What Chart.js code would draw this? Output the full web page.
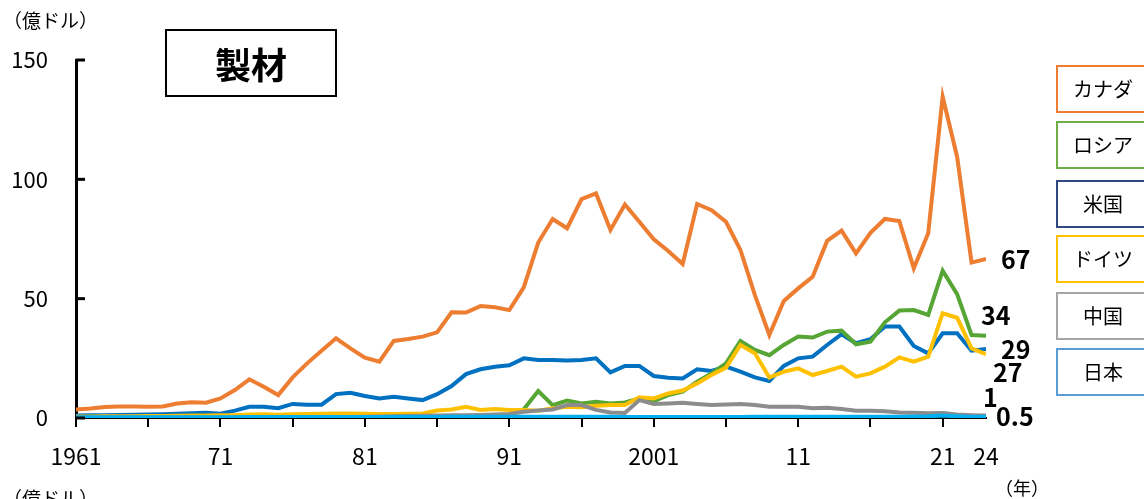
<!DOCTYPE html>
<html lang="ja">
<head>
<meta charset="utf-8">
<script src="https://cdn.jsdelivr.net/npm/chart.js@4.4.1/dist/chart.umd.min.js"></script>
<style>
  html, body { margin: 0; padding: 0; background: #fff; }
  body { width: 1144px; height: 499px; overflow: hidden; position: relative;
    font-family: "Noto Sans CJK JP", "Noto Sans", sans-serif; color: #000; }
  #wrap { position: absolute; left: 0; top: 0; width: 1144px; height: 499px; }
  .note { position: absolute; font-size: 18px; line-height: 1; }
  #title { position: absolute; left: 165px; top: 29px; width: 168px; height: 64px;
    border: 2.5px solid #000; font-weight: bold; font-size: 36px; line-height: 64px; text-align: center; }
  .leg { position: absolute; left: 1056px; width: 90px; height: 44px; border: 2px solid;
    font-size: 20px; line-height: 44px; text-align: center; box-sizing: content-box; }
</style>
</head>
<body>
<div id="wrap"><canvas id="chart"></canvas></div>
<div class="note" style="left:3px; top:10px; font-size:19px;">（億ドル）</div>
<div class="note" style="left:3px; top:488px; font-size:19px;">（億ドル）</div>
<div class="note" style="left:995px; top:478px;">（年）</div>
<div id="title">製材</div>
<div id="legend"></div>
<script>
// years 1961..2024
const years = Array.from({ length: 64 }, (_, i) => 1961 + i);

const canada = [
  3.6, 4.0, 4.6, 4.8, 4.8, 4.7, 4.8, 6.1, 6.6, 6.4,
  8.2, 11.7, 16.2, 13.1, 9.6, 17.0, 22.9, 28.2, 33.4, 29.2,
  25.3, 23.6, 32.3, 33.1, 34.1, 35.9, 44.3, 44.2, 46.9, 46.4,
  45.2, 54.7, 73.5, 83.4, 79.5, 91.7, 94.1, 78.8, 89.5, 82.2,
  74.9, 70.0, 64.5, 89.7, 87.1, 82.2, 70.4, 51.5, 34.8, 49.0,
  54.3, 59.2, 74.2, 78.5, 69.0, 77.6, 83.4, 82.5, 62.7, 77.4,
  134.6, 109.5, 65.1, 66.6
];
const russia = [
  null, null, null, null, null, null, null, null, null, null,
  null, null, null, null, null, null, null, null, null, null,
  null, null, null, null, null, null, null, null, null, null,
  null, 3.7, 11.3, 5.4, 7.3, 6.1, 6.8, 6.1, 6.5, 8.2,
  7.1, 9.6, 11.0, 15.2, 18.7, 22.9, 32.3, 28.5, 26.3, 30.6,
  34.1, 33.7, 36.2, 36.6, 30.9, 32.0, 40.1, 45.0, 45.2, 43.2,
  61.7, 51.9, 34.8, 34.5
];
const usa = [
  1.0, 1.1, 1.2, 1.3, 1.4, 1.5, 1.6, 1.8, 2.0, 2.2,
  1.8, 3.1, 4.7, 4.7, 4.1, 5.9, 5.6, 5.6, 10.0, 10.6,
  9.2, 8.2, 8.9, 8.2, 7.5, 10.0, 13.4, 18.4, 20.4, 21.5,
  22.1, 25.0, 24.3, 24.3, 24.1, 24.3, 25.0, 19.1, 21.8, 21.8,
  17.6, 16.9, 16.6, 20.4, 19.7, 21.5, 19.4, 17.0, 15.5, 21.8,
  25.0, 25.7, 30.6, 35.1, 31.3, 33.0, 38.3, 38.3, 30.2, 27.1,
  35.5, 35.5, 28.2, 28.9
];
const germany = [
  0.6, 0.6, 0.7, 0.7, 0.7, 0.8, 0.8, 0.9, 1.0, 1.0,
  1.1, 1.2, 1.5, 1.6, 1.4, 1.6, 1.7, 1.8, 1.9, 1.9,
  1.8, 1.7, 1.7, 1.8, 1.9, 3.1, 3.6, 4.7, 3.4, 3.8,
  3.4, 3.4, 3.0, 4.1, 4.7, 4.5, 5.1, 5.4, 5.4, 8.7,
  8.2, 10.3, 11.5, 14.5, 18.0, 21.1, 30.6, 27.1, 17.0, 19.4,
  20.8, 18.0, 19.7, 21.5, 17.3, 18.7, 21.5, 25.4, 23.6, 25.7,
  43.9, 42.0, 29.2, 26.8
];
const china = [
  0.2, 0.2, 0.2, 0.2, 0.2, 0.2, 0.2, 0.2, 0.2, 0.2,
  0.2, 0.2, 0.3, 0.3, 0.3, 0.3, 0.3, 0.3, 0.4, 0.4,
  0.5, 0.6, 0.7, 0.8, 0.9, 1.0, 1.1, 1.2, 1.3, 1.5,
  1.7, 2.6, 3.1, 3.6, 5.4, 5.4, 3.4, 2.3, 2.1, 7.5,
  5.9, 6.1, 6.4, 5.9, 5.4, 5.7, 5.9, 5.4, 4.7, 4.7,
  4.7, 4.1, 4.3, 3.8, 3.0, 3.0, 2.8, 2.3, 2.2, 2.0,
  2.1, 1.5, 1.2, 1.0
];
const japan = [
  0.3, 0.3, 0.3, 0.3, 0.3, 0.3, 0.3, 0.3, 0.3, 0.3,
  0.3, 0.3, 0.4, 0.4, 0.4, 0.4, 0.4, 0.4, 0.4, 0.4,
  0.4, 0.4, 0.4, 0.4, 0.4, 0.4, 0.5, 0.5, 0.5, 0.5,
  0.5, 0.5, 0.5, 0.5, 0.5, 0.5, 0.5, 0.5, 0.4, 0.4,
  0.4, 0.4, 0.4, 0.4, 0.4, 0.4, 0.4, 0.5, 0.5, 0.5,
  0.5, 0.5, 0.5, 0.5, 0.5, 0.5, 0.5, 0.5, 0.6, 0.7,
  1.0, 0.7, 0.5, 0.5
];

const countries = ["カナダ", "ロシア", "米国", "ドイツ", "中国", "日本"];
const endLabels = ["67", "34", "29", "27", "1", "0.5"];
const xTicks = [1961, 1966, 1971, 1976, 1981, 1986, 1991, 1996, 2001, 2006, 2011, 2016, 2021, 2024];
const xTickLabels = ["1961", "", "71", "", "81", "", "91", "", "2001", "", "11", "", "21", "24"];
const yTicks = [0, 50, 100, 150];

const series = [canada, russia, usa, germany, china, japan];
const lineColors = ["#ED7D31", "#56A535", "#0070C0", "#FFC000", "#8C8C8C", "#00B0F0"];
const legendBorders = ["#ED7D31", "#70AD47", "#2F4A7F", "#FFC000", "#A5A5A5", "#5B9BD5"];
const drawOrder = [5, 3, 4, 2, 1, 0];
// label offsets from each series' last point (dx, dy)
const labelOffsets = [[15, 0], [-5, -20], [15, 0], [7, 18], [-3, -18], [10, 0]];

// legend boxes
const legendTops = [65, 121, 180, 235, 292, 348];
const legend = document.getElementById("legend");
countries.forEach((name, i) => {
  const d = document.createElement("div");
  d.className = "leg";
  d.style.top = legendTops[i] + "px";
  d.style.borderColor = legendBorders[i];
  d.textContent = name;
  legend.appendChild(d);
});

const FONT = "'Noto Sans CJK JP', 'Noto Sans', sans-serif";

const yTickMarks = {
  id: "yTickMarks",
  afterDatasetsDraw(chart) {
    const { ctx, chartArea, scales } = chart;
    ctx.save();
    ctx.strokeStyle = "#000";
    ctx.lineWidth = 3;
    yTicks.forEach((v) => {
      const y = scales.y.getPixelForValue(v);
      ctx.beginPath();
      ctx.moveTo(chartArea.left, y);
      ctx.lineTo(chartArea.left + 9, y);
      ctx.stroke();
    });
    ctx.restore();
  },
};

const endLabelPlugin = {
  id: "endLabels",
  afterDatasetsDraw(chart) {
    const { ctx } = chart;
    ctx.save();
    ctx.fillStyle = "#000";
    ctx.font = "bold 25px " + FONT;
    ctx.textAlign = "left";
    ctx.textBaseline = "middle";
    chart.data.datasets.forEach((ds, i) => {
      const meta = chart.getDatasetMeta(i);
      const pt = meta.data[meta.data.length - 1];
      const [dx, dy] = labelOffsets[i];
      ctx.fillText(endLabels[i], pt.x + dx, pt.y + dy);
    });
    ctx.restore();
  },
};

new Chart(document.getElementById("chart"), {
  type: "line",
  data: {
    labels: years,
    datasets: series.map((vals, i) => ({
      label: countries[i],
      data: vals.map((v, j) => ({ x: years[j], y: v })),
      borderColor: lineColors[i],
      backgroundColor: lineColors[i],
      borderWidth: 4,
      pointRadius: 0,
      tension: 0,
      spanGaps: false,
      order: drawOrder[i],
    })),
  },
  options: {
    responsive: true,
    maintainAspectRatio: false,
    animation: false,
    layout: { padding: { left: 0, top: 60, right: 158, bottom: 0 } },
    plugins: { legend: { display: false }, tooltip: { enabled: false } },
    scales: {
      x: {
        type: "linear",
        min: 1961,
        max: 2024,
        afterBuildTicks: (scale) => {
          scale.ticks = xTicks.map((v) => ({ value: v }));
        },
        afterFit: (scale) => {
          scale.height = 81;
        },
        border: { display: true, color: "#000", width: 2 },
        grid: {
          drawOnChartArea: false,
          drawTicks: true,
          tickLength: 9,
          lineWidth: 2,
          color: (c) => (c.tick && c.tick.value === 2024 ? "rgba(0,0,0,0)" : "#000"),
          tickColor: (c) => (c.tick && c.tick.value === 2024 ? "rgba(0,0,0,0)" : "#000"),
        },
        ticks: {
          autoSkip: false,
          maxRotation: 0,
          padding: 15,
          color: "#000",
          font: { family: FONT, size: 23 },
          callback: (v) => xTickLabels[xTicks.indexOf(v)] ?? "",
        },
      },
      y: {
        min: 0,
        max: 150,
        afterBuildTicks: (scale) => {
          scale.ticks = yTicks.map((v) => ({ value: v }));
        },
        afterFit: (scale) => {
          scale.width = 76;
        },
        border: { display: true, color: "#000", width: 3 },
        grid: { drawOnChartArea: false, drawTicks: false },
        ticks: {
          padding: 28,
          color: "#000",
          font: { family: FONT, size: 22 },
        },
      },
    },
  },
  plugins: [yTickMarks, endLabelPlugin],
});
</script>
</body>
</html>
